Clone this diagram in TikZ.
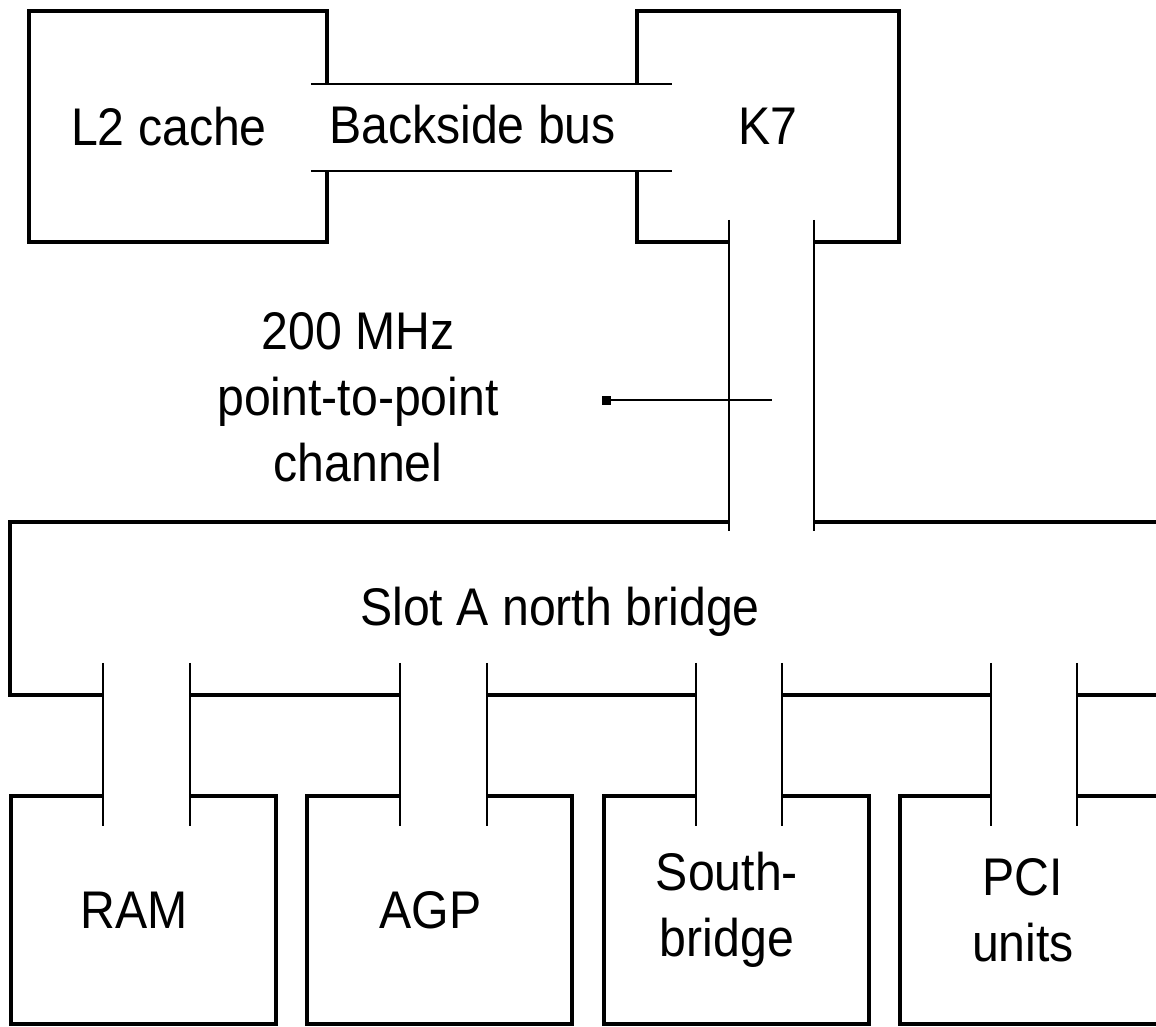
\documentclass[tikz,border=0pt]{standalone}
\usepackage{fontspec}
\newfontfamily\diagfamily[FakeStretch=0.91]{Liberation Sans}
\usetikzlibrary{positioning}
\newcommand\diagfont{\diagfamily\fontsize{53}{66}\selectfont}
\tikzset{
  base/.style={font=\diagfont, align=center, inner sep=0pt, text=black},
  unit/.style={base, rectangle, draw=black, fill=white, line width=4pt},
  tag/.style={label={[base,xshift=-9pt]center:#1}},
  link/.style={rectangle, fill=white, draw=none, inner sep=0pt},
  wire/.style={line width=1.8pt, draw=black},
  dot/.style={rectangle, fill=black, inner sep=0pt, minimum size=9pt},
}

\begin{document}
\begin{tikzpicture}[x=1pt,y=-1pt]
  \useasboundingbox (0,0) rectangle (1156,1027);
  \clip (0,0) rectangle (1156,1027);
  % chips
  \node[unit,minimum width=298pt,minimum height=231pt,tag={L2 cache}] (l2) at (178,126.5) {};
  \node[unit,minimum width=262pt,minimum height=231pt] (k7) at (768,126.5) {K7};
  \node[unit,minimum width=1170pt,minimum height=173pt,
        label={[base,xshift=-35pt,yshift=-3pt]center:Slot A north bridge}] (nb) at (595,608.5) {};
  \foreach \n/\x/\t in {ram/143/RAM, agp/439.5/AGP, sb/736/South-\\bridge, pci/1032/PCI\\units}
    \node[unit,minimum width=265pt,minimum height=228pt,tag=\t] (\n) at (\x,910) {};
  % buses
  \node[link,minimum width=361pt,minimum height=87pt,
        label={[base,xshift=-19pt,yshift=3pt]center:Backside bus}] (bsb) at (491.5,127.5) {};
  \node[link,minimum width=85pt,minimum height=311pt] (ch) at (771.5,375.5) {};
  \foreach \n/\x in {ramb/146.5, agpb/443.5, sbb/739, pcib/1034}
    \node[link,minimum width=86pt,minimum height=163pt] (\n) at (\x,744.5) {};
  \draw[wire] (bsb.north west) -- (bsb.north east) (bsb.south west) -- (bsb.south east);
  \foreach \b in {ch,ramb,agpb,sbb,pcib}
    \draw[wire] (\b.north west) -- (\b.south west) (\b.north east) -- (\b.south east);
  % channel label
  \node[base] (chlbl) at (358,397) {200 MHz\\point-to-point\\channel};
  \node[dot] (tip) at (606,400) {};
  \draw[wire,line width=1.5pt] (tip.center) -- (tip.center -| ch.center);
\end{tikzpicture}
\end{document}
